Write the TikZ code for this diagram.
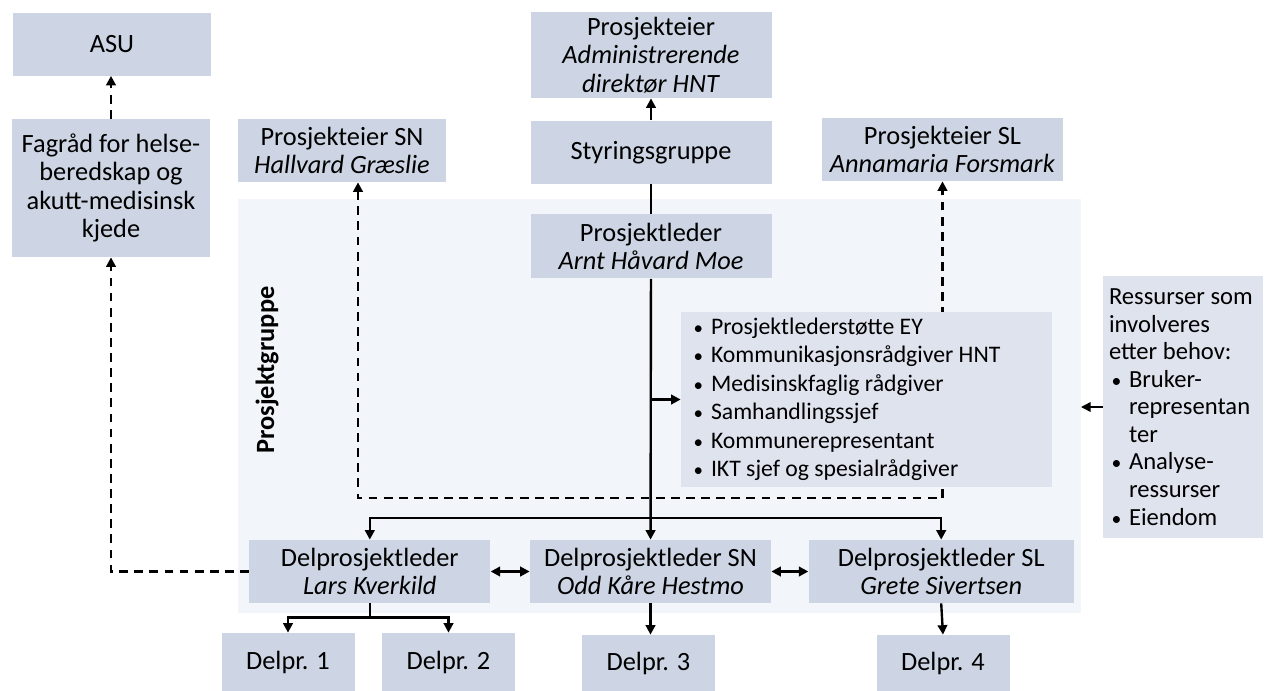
\documentclass[tikz,border=0pt]{standalone}
\usepackage{fontspec}
\setmainfont{Carlito}
\usepackage{tikz}
\usetikzlibrary{arrows.meta,calc,positioning}
\definecolor{boxfill}{RGB}{205,213,228}
\definecolor{listfill}{RGB}{223,227,238}
\definecolor{grpfill}{RGB}{242,245,249}
\newcommand{\itm}{\makebox[0.4cm][l]{\hspace{0.05cm}\scalebox{0.8}{\textbullet}}}

\begin{document}
\begin{tikzpicture}[
  font=\fontsize{15}{16.2}\selectfont,
  >={Triangle[length=1.9mm,width=1.9mm]},
  arrS/.style={->, line width=1.35pt},
  arrB/.style={<->, line width=1.35pt},
  arrQ/.style={->, line width=1.35pt, dash pattern=on 5pt off 3.6pt},
  unit/.style={rectangle, fill=boxfill, inner sep=2pt, align=center,
    minimum width=4.82cm, minimum height=1.26cm},
  sub/.style={unit, minimum width=2.66cm, minimum height=1.16cm},
  note/.style={rectangle, fill=listfill, inner ysep=0pt, align=flush left},
]
  \useasboundingbox (0,0) rectangle (25.36,-13.82);
  % Prosjektgruppe area
  \node[rectangle, fill=grpfill, inner sep=0pt, minimum width=16.86cm, minimum height=8.28cm] (grp) at (13.19,-8.12) {};
  \node[rotate=90, font=\fontsize{15}{16.2}\selectfont\bfseries] (grplbl) at (5.34,-7.4) {Prosjektgruppe};
  % Left column
  \node[unit, minimum width=3.96cm] (asu) at (2.24,-0.88) {ASU};
  \node[unit, minimum width=3.96cm, minimum height=2.76cm] (fagrad) at (2.22,-3.76)
    {Fagråd for helse-\\beredskap og\\akutt-medisinsk\\kjede};
  % Owner chain (centre)
  \node[unit, minimum height=1.72cm] (owner) at (13.02,-1.1)
    {Prosjekteier\\\textit{Administrerende}\\\textit{direktør HNT}};
  \node[unit, below=0.44cm of owner] (styr) {Styringsgruppe};
  \node[unit, minimum height=1.28cm, below=0.6cm of styr] (pl)
    {Prosjektleder\\\textit{Arnt Håvard Moe}};
  % Site owners
  \node[unit, minimum width=4.16cm] (ownsn) at (6.84,-3.01)
    {Prosjekteier SN\\\textit{Hallvard Græslie}};
  \node[unit] (ownsl) at (18.85,-2.99)
    {Prosjekteier SL\\\textit{Annamaria Forsmark}};
  % Subproject leads
  \node[unit] (dpsn) at (13.01,-11.43) {Delprosjektleder SN\\\textit{Odd Kåre Hestmo}};
  \node[unit, left=0.78cm of dpsn] (dpl) {Delprosjektleder\\\textit{Lars Kverkild}};
  \node[unit, minimum width=5.3cm, right=0.74cm of dpsn] (dpsl)
    {Delprosjektleder SL\\\textit{Grete Sivertsen}};
  % Work packages
  \node[sub] (d1) at (5.76,-13.24) {Delpr. 1};
  \node[sub] (d2) at (8.97,-13.24) {Delpr. 2};
  \node[sub, minimum height=1.12cm] (d3) at (12.97,-13.26) {Delpr. 3};
  \node[sub, minimum height=1.12cm] (d4) at (18.86,-13.26) {Delpr. 4};
  % Dashed reporting lines
  \coordinate (dashL) at (7.16,-9.96);
  \draw[arrQ, <->] (dashL |- ownsn.south) -- (dashL) -| (ownsl.south);
  \draw[arrQ] (fagrad.north) -- (fagrad.north |- asu.south);
  \draw[arrQ] (dpl.west) -| (fagrad.south);
  % Support staff (covers the dashed line)
  \node[note, inner xsep=0.2cm, text width=7.02cm, minimum height=3.5cm,
    font=\fontsize{13.5}{16.2}\selectfont] (stotte) at (17.33,-7.99)
    {\itm Prosjektlederstøtte EY\\
     \itm Kommunikasjonsrådgiver HNT\\
     \itm Medisinskfaglig rådgiver\\
     \itm Samhandlingssjef\\
     \itm Kommunerepresentant\\
     \itm IKT sjef og spesialrådgiver};
  % Resources on demand
  \node[note, inner xsep=0.12cm, text width=2.96cm, minimum height=5.24cm,
    font=\fontsize{14}{15.7}\selectfont] (ress) at (23.66,-8.14)
    {Ressurser som\\
     involveres\\
     etter behov:\\
     \itm Bruker-\\
     \hspace*{0.4cm}representan\\
     \hspace*{0.4cm}ter\\
     \itm Analyse-\\
     \hspace*{0.4cm}ressurser\\
     \itm Eiendom};
  % Solid lines
  \draw[arrS] (styr) -- (owner);
  \draw[line width=1.35pt] (pl) -- (styr);
  \draw[arrS] (pl) -- (dpsn);
  \coordinate (bus) at (13.01,-10.36);
  \draw[arrS] (bus) -| (dpl.north);
  \draw[arrS] (bus) -| (dpsl.north);
  \draw[arrS] (stotte.west -| pl.south) -- (stotte.west);
  \draw[arrB] (dpl) -- (dpsn);
  \draw[arrB] (dpsn) -- (dpsl);
  \coordinate (split) at ($(dpl.south)+(0,-0.28)$);
  \draw[line width=1.35pt] (dpl.south) -- (split);
  \draw[arrS] (split) -| (d1.north);
  \draw[arrS] (split) -| (d2.north);
  \draw[arrS] (dpsn.south) -- (dpsn.south |- d3.north);
  \draw[arrS] (dpsl.south) -- (d4.north);
  \coordinate (restip) at (21.62,-8.14);
  \draw[->, line width=0.8pt] (ress.west) -- (restip);
\end{tikzpicture}
\end{document}
